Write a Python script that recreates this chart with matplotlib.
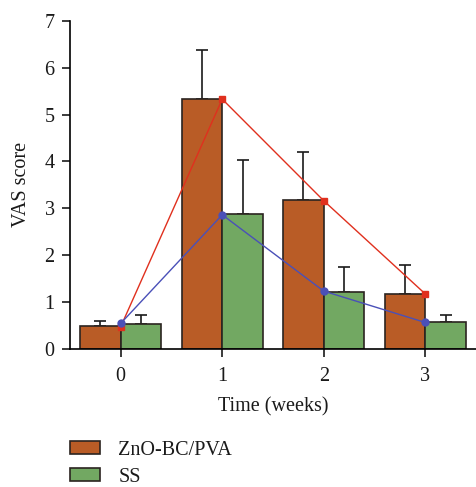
import matplotlib
matplotlib.use("Agg")
import matplotlib.pyplot as plt
import numpy as np

weeks = [0, 1, 2, 3]
zno_mean = [0.48, 5.33, 3.17, 1.16]
zno_err = [0.12, 1.04, 1.03, 0.63]
ss_mean = [0.52, 2.87, 1.22, 0.56]
ss_err = [0.21, 1.16, 0.52, 0.15]
zno_line = [0.47, 5.33, 3.16, 1.17]
ss_line = [0.54, 2.86, 1.23, 0.56]
labels = ["ZnO-BC/PVA", "SS"]

plt.rcParams['font.family'] = ['Liberation Serif', 'DejaVu Serif']
plt.rcParams['text.color'] = '#1a1a1a'
plt.rcParams['axes.labelcolor'] = '#1a1a1a'

fig = plt.figure(figsize=(4.76, 4.87), dpi=100)
ax = fig.add_axes([0.147, 0.284, 0.853, 0.673])

x = np.array(weeks, dtype=float)
w = 0.4
orange = '#B95C26'
green = '#72A862'
edge = '#2b2420'

b1 = ax.bar(x - w/2, zno_mean, w, color=orange, edgecolor=edge, linewidth=1.2, label=labels[0], zorder=2)
b2 = ax.bar(x + w/2, ss_mean, w, color=green, edgecolor=edge, linewidth=1.2, label=labels[1], zorder=2)
ax.errorbar(x - w/2, zno_mean, yerr=[np.zeros(4), zno_err], fmt='none', ecolor='#1a1a1a',
            elinewidth=1.2, capsize=4, capthick=1.2, zorder=1)
ax.errorbar(x + w/2, ss_mean, yerr=[np.zeros(4), ss_err], fmt='none', ecolor='#1a1a1a',
            elinewidth=1.2, capsize=4, capthick=1.2, zorder=1)

ax.plot(x, zno_line, color='#E0301E', marker='s', markersize=5, linewidth=1.0, zorder=4)
ax.plot(x, ss_line, color='#4A50B8', marker='o', markersize=5, linewidth=1.0, zorder=4)

ax.set_xlim(-0.5, 3.5)
ax.set_ylim(0, 7)
ax.set_xticks(weeks)
ax.set_yticks(range(0, 8))
ax.spines['top'].set_visible(False)
ax.spines['right'].set_visible(False)
ax.spines['left'].set_linewidth(1.2)
ax.spines['bottom'].set_linewidth(1.2)
ax.tick_params(axis='both', labelsize=14.5, width=1.2, length=6, colors='#1a1a1a', pad=5)
ax.tick_params(axis='x', pad=7)
ax.set_xlabel('Time (weeks)', fontsize=14.5, labelpad=8)
ax.set_ylabel('VAS score', fontsize=14.5, labelpad=10)

fig.legend(handles=[b1, b2], labels=labels, loc='upper left', bbox_to_anchor=(0.147, 0.095),
           frameon=False, fontsize=14.5, handlelength=1.5, handleheight=0.65, handletextpad=0.9,
           labelspacing=0.4, borderaxespad=0, borderpad=0)

fig.savefig('out.png', dpi=100)
